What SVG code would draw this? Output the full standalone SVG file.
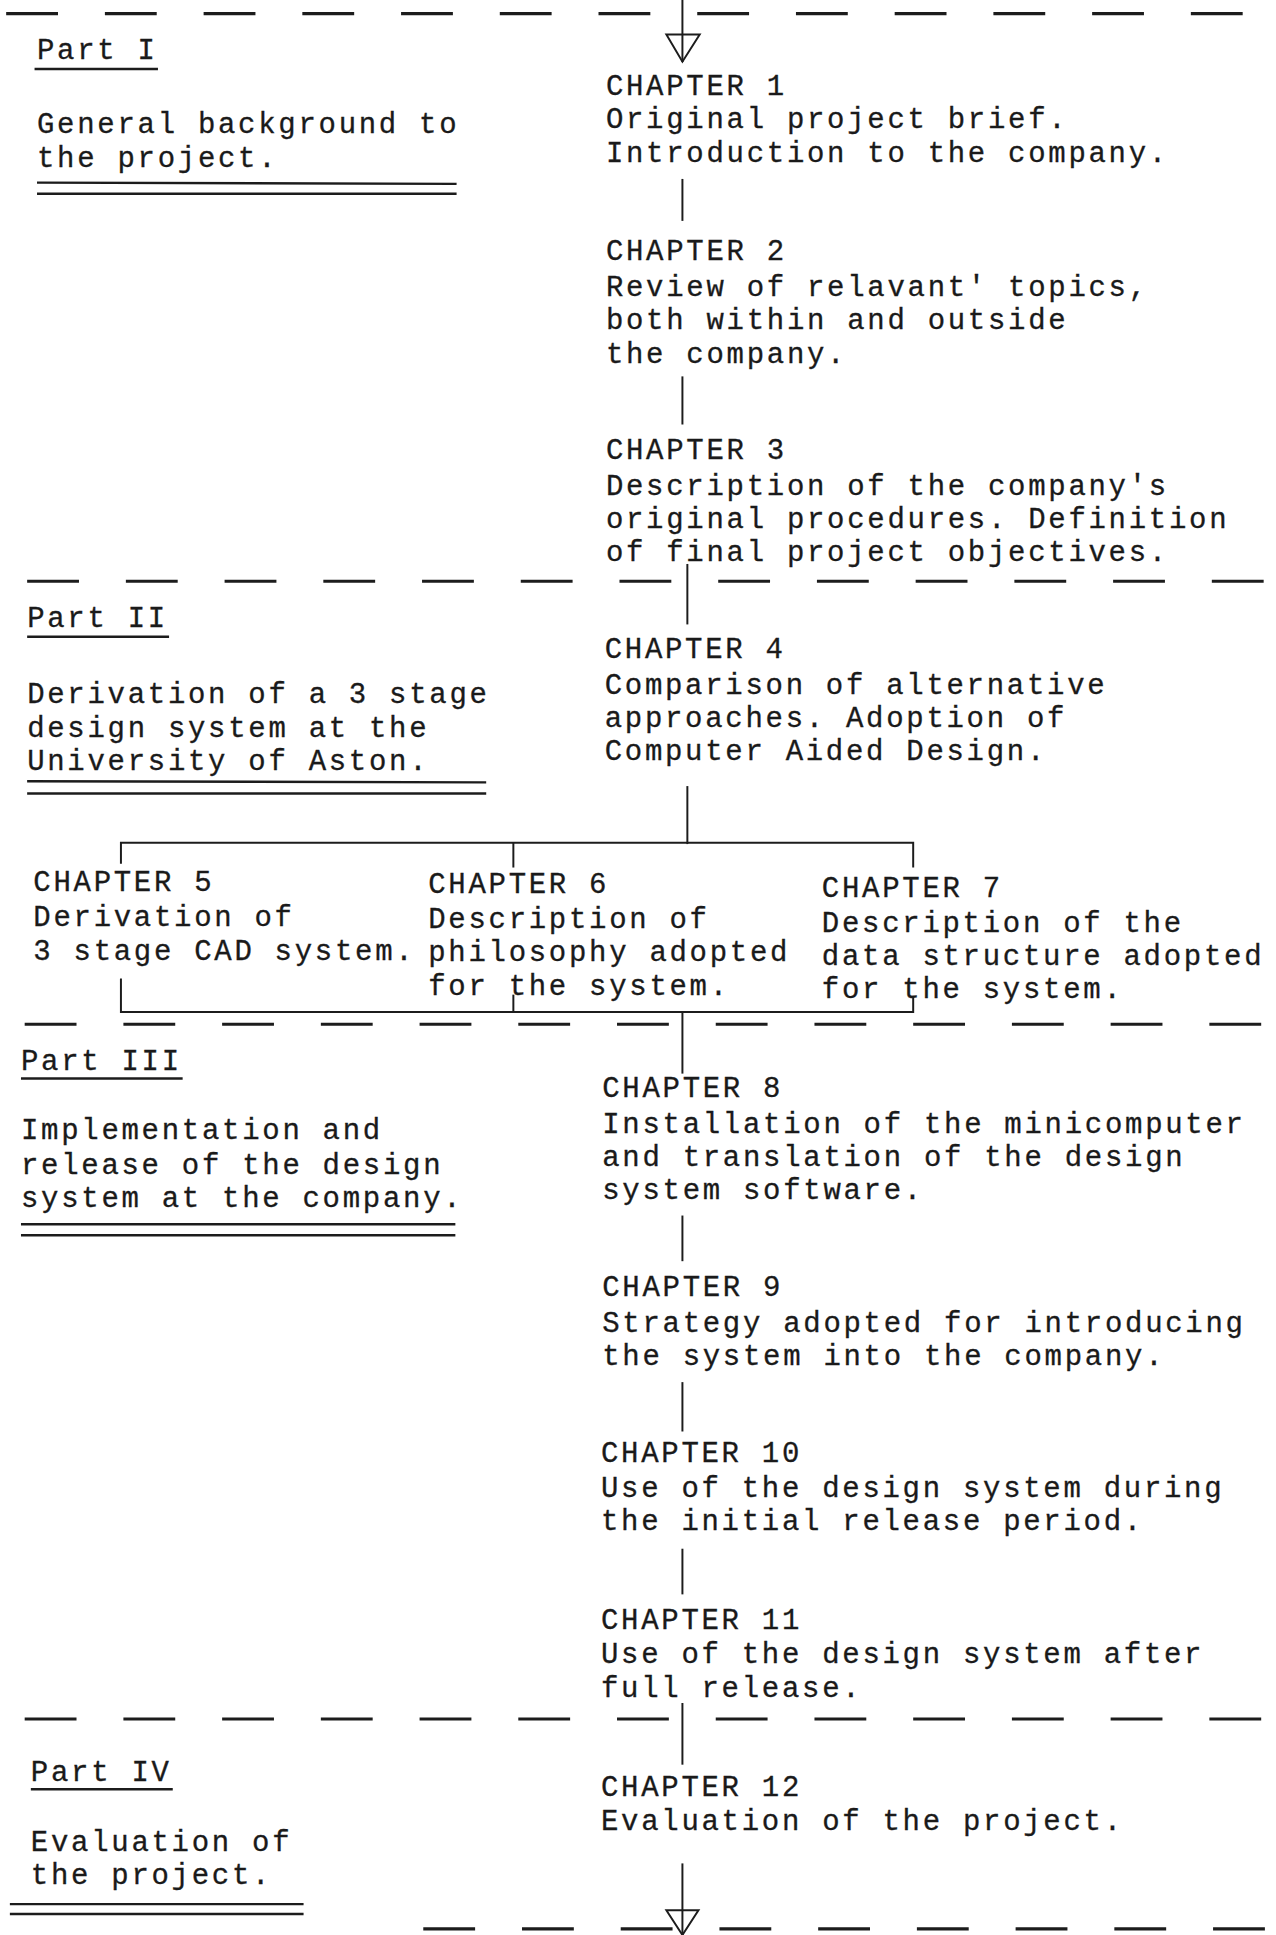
<svg xmlns="http://www.w3.org/2000/svg" width="1276" height="1935" viewBox="0 0 1276 1935">
<style>
text { font-family: "Liberation Mono", "Courier New", monospace; font-size: 23.5px; letter-spacing: 2.2px; fill: #1a1a1a; stroke: #1a1a1a; stroke-width: 0.25; }
.ln { stroke: #1c1c1c; stroke-width: 1.6; fill: none; }
.dash { stroke: #1c1c1c; stroke-width: 2.6; stroke-dasharray: 42 38; fill: none; }
.ul { stroke: #1c1c1c; stroke-width: 2; fill: none; }
.arrow { stroke: #1c1c1c; stroke-width: 1.6; fill: #fff; }
</style>
<rect width="1276" height="1935" fill="#fff"/>
<g transform="scale(1.23404)">
  <g id="dividers">
    <line class="dash" x1="5" y1="11" x2="1030" y2="11"/>
    <line class="dash" x1="22" y1="471" x2="1030" y2="471"/>
    <line class="dash" x1="20" y1="830" x2="1030" y2="830"/>
    <line class="dash" x1="20" y1="1393" x2="1030" y2="1393"/>
    <line class="dash" x1="343" y1="1563" x2="1030" y2="1563"/>
  </g>

  <g id="part1">
    <text x="30" y="48">Part I</text>
    <line class="ul" x1="28" y1="56" x2="128" y2="56"/>
    <text x="30" y="108">General background to</text>
    <text x="30" y="135">the project.</text>
    <line class="ul" x1="30" y1="148" x2="370" y2="149"/>
    <line class="ul" x1="30" y1="157" x2="370" y2="157"/>
  </g>

  <g id="part2">
    <text x="22" y="508">Part II</text>
    <line class="ul" x1="22" y1="516" x2="137" y2="516"/>
    <text x="22" y="570">Derivation of a 3 stage</text>
    <text x="22" y="597">design system at the</text>
    <text x="22" y="624">University of Aston.</text>
    <line class="ul" x1="22" y1="633" x2="394" y2="634"/>
    <line class="ul" x1="22" y1="643" x2="394" y2="643"/>
  </g>

  <g id="part3">
    <text x="17" y="867">Part III</text>
    <line class="ul" x1="17" y1="874" x2="148" y2="874"/>
    <text x="17" y="923">Implementation and</text>
    <text x="17" y="951">release of the design</text>
    <text x="17" y="978">system at the company.</text>
    <line class="ul" x1="17" y1="992" x2="369" y2="992"/>
    <line class="ul" x1="17" y1="1001" x2="369" y2="1001"/>
  </g>

  <g id="part4">
    <text x="25" y="1443">Part IV</text>
    <line class="ul" x1="25" y1="1450" x2="140" y2="1450"/>
    <text x="25" y="1500">Evaluation of</text>
    <text x="25" y="1527">the project.</text>
    <line class="ul" x1="8" y1="1543" x2="246" y2="1543"/>
    <line class="ul" x1="8" y1="1551" x2="246" y2="1551"/>
  </g>

  <g id="ch1">
    <text x="491" y="77">CHAPTER 1</text>
    <text x="491" y="104">Original project brief.</text>
    <text x="491" y="131">Introduction to the company.</text>
  </g>
  <g id="ch2">
    <text x="491" y="211">CHAPTER 2</text>
    <text x="491" y="240">Review of relavant' topics,</text>
    <text x="491" y="267">both within and outside</text>
    <text x="491" y="294">the company.</text>
  </g>
  <g id="ch3">
    <text x="491" y="372">CHAPTER 3</text>
    <text x="491" y="401">Description of the company's</text>
    <text x="491" y="428">original procedures. Definition</text>
    <text x="491" y="455">of final project objectives.</text>
  </g>
  <g id="ch4">
    <text x="490" y="533">CHAPTER 4</text>
    <text x="490" y="562">Comparison of alternative</text>
    <text x="490" y="589">approaches. Adoption of</text>
    <text x="490" y="616">Computer Aided Design.</text>
  </g>
  <g id="ch5">
    <text x="27" y="722">CHAPTER 5</text>
    <text x="27" y="750">Derivation of</text>
    <text x="27" y="778">3 stage CAD system.</text>
  </g>
  <g id="ch6">
    <text x="347" y="724">CHAPTER 6</text>
    <text x="347" y="752">Description of</text>
    <text x="347" y="779">philosophy adopted</text>
    <text x="347" y="806">for the system.</text>
  </g>
  <g id="ch7">
    <text x="666" y="727">CHAPTER 7</text>
    <text x="666" y="755">Description of the</text>
    <text x="666" y="782">data structure adopted</text>
    <text x="666" y="809">for the system.</text>
  </g>
  <g id="ch8">
    <text x="488" y="889">CHAPTER 8</text>
    <text x="488" y="918">Installation of the minicomputer</text>
    <text x="488" y="945">and translation of the design</text>
    <text x="488" y="972">system software.</text>
  </g>
  <g id="ch9">
    <text x="488" y="1050">CHAPTER 9</text>
    <text x="488" y="1079">Strategy adopted for introducing</text>
    <text x="488" y="1106">the system into the company.</text>
  </g>
  <g id="ch10">
    <text x="487" y="1185">CHAPTER 10</text>
    <text x="487" y="1213">Use of the design system during</text>
    <text x="487" y="1240">the initial release period.</text>
  </g>
  <g id="ch11">
    <text x="487" y="1320">CHAPTER 11</text>
    <text x="487" y="1348">Use of the design system after</text>
    <text x="487" y="1375">full release.</text>
  </g>
  <g id="ch12">
    <text x="487" y="1455">CHAPTER 12</text>
    <text x="487" y="1483">Evaluation of the project.</text>
  </g>

  <g id="connectors">
    <line class="ln" x1="553" y1="0" x2="553" y2="50"/>
    <polygon class="arrow" points="540,28 567,28 553,50"/>
    <line class="ln" x1="553" y1="28" x2="553" y2="50"/>
    <line class="ln" x1="553" y1="145" x2="553" y2="179"/>
    <line class="ln" x1="553" y1="305" x2="553" y2="344"/>
    <line class="ln" x1="557" y1="457" x2="557" y2="506"/>
    <line class="ln" x1="557" y1="637" x2="557" y2="684"/>
    <polyline class="ln" points="98,700 98,683 740,683 740,703"/>
    <line class="ln" x1="416" y1="683" x2="416" y2="703"/>
    <polyline class="ln" points="98,793 98,820 740,820 740,808"/>
    <line class="ln" x1="416" y1="806" x2="416" y2="820"/>
    <line class="ln" x1="553" y1="820" x2="553" y2="870"/>
    <line class="ln" x1="553" y1="985" x2="553" y2="1022"/>
    <line class="ln" x1="553" y1="1120" x2="553" y2="1160"/>
    <line class="ln" x1="553" y1="1255" x2="553" y2="1292"/>
    <line class="ln" x1="553" y1="1380" x2="553" y2="1430"/>
    <line class="ln" x1="553" y1="1510" x2="553" y2="1568"/>
    <polygon class="arrow" points="540,1548 566,1548 553,1568"/>
    <line class="ln" x1="553" y1="1548" x2="553" y2="1568"/>
  </g>
</g>
</svg>
